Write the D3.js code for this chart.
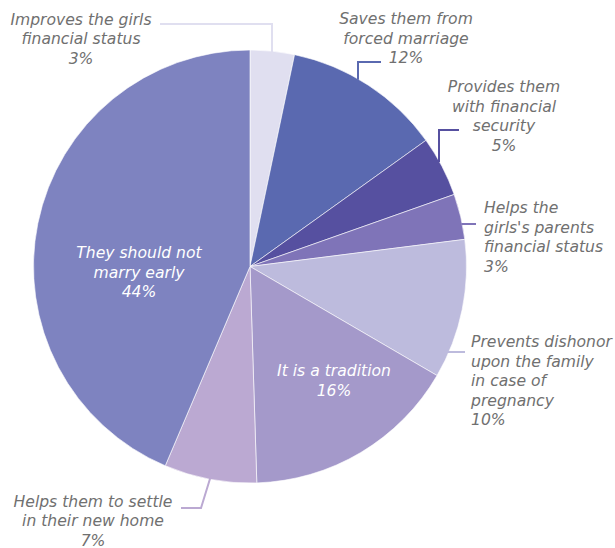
<!DOCTYPE html>
<html><head><meta charset="utf-8">
<script src="https://cdn.jsdelivr.net/npm/d3@7"></script>
<style>
html,body{margin:0;padding:0;background:#fff;}
svg{display:block;}
text{font-family:"DejaVu Sans",sans-serif;font-style:italic;font-size:15.6px;}
</style></head>
<body>
<svg id="chart" width="615" height="548"></svg>
<script>
// ---- data ----
const categories = [
  "Improves the girls financial status",
  "Saves them from forced marriage",
  "Provides them with financial security",
  "Helps the girls's parents financial status",
  "Prevents dishonor upon the family in case of pregnancy",
  "It is a tradition",
  "Helps them to settle in their new home",
  "They should not marry early"
];
const values = [3.3, 11.8, 4.5, 3.4, 10.4, 16.1, 6.9, 43.6];
const colors = ["#e0dff0", "#5a69b0", "#5650a0", "#7f74b8", "#bdbbdd", "#a499ca", "#bba9d2", "#7e83c0"];
const labelLines = [
  ["Improves the girls", "financial status"],
  ["Saves them from", "forced marriage"],
  ["Provides them", "with financial", "security"],
  ["Helps the", "girls's parents", "financial status"],
  ["Prevents dishonor", "upon the family", "in case of", "pregnancy"],
  ["It is a tradition"],
  ["Helps them to settle", "in their new home"],
  ["They should not", "marry early"]
];

// ---- layout (styling / placement, not data) ----
const cx = 250, cy = 266.5, R = 216.5;
const lineH = 19.6;
const layout = [
  {kind:"v", lx:272, ly:24, ex:160, tx:81, ty:24.5, anchor:"middle"},
  {kind:"v", lx:358, ly:62, ex:381, tx:406, ty:24, anchor:"middle"},
  {kind:"v", lx:439, ly:130, ex:459, tx:504, ty:92, anchor:"middle"},
  {kind:"h", ly:224, ex:476, tx:484, ty:213, anchor:"start"},
  {kind:"h", ly:352, ex:465, tx:471, ty:347, anchor:"start"},
  {kind:"i", tx:334, ty:376, anchor:"middle"},
  {kind:"s", kx:201, ky:508, ex:181, tx:93, ty:506.5, anchor:"middle"},
  {kind:"i", tx:139, ty:258, anchor:"middle"}
];

const svg = d3.select("#chart");
const g = svg.append("g").attr("transform", `translate(${cx},${cy})`);

const pie = d3.pie().sort(null).value(d => d)(values);
const arc = d3.arc().innerRadius(0).outerRadius(R);

g.selectAll("path.slice").data(pie).enter().append("path")
  .attr("class", "slice")
  .attr("d", arc)
  .attr("fill", (d, i) => colors[i])
  .attr("stroke", "#ffffff")
  .attr("stroke-width", 0.6)
  .attr("stroke-linejoin", "round");

const lg = svg.append("g");
pie.forEach((d, i) => {
  const L = layout[i];
  const pct = Math.round(values[i]) + "%";
  let pts = null;
  if (L.kind === "v") {
    const dx = L.lx - cx;
    const y0 = cy - Math.sqrt(R * R - dx * dx);
    pts = [[L.lx, y0 + 1], [L.lx, L.ly], [L.ex, L.ly]];
  } else if (L.kind === "h") {
    const dy = L.ly - cy;
    const x0 = cx + Math.sqrt(R * R - dy * dy);
    pts = [[x0 - 1, L.ly], [L.ex, L.ly]];
  } else if (L.kind === "s") {
    const a = (d.startAngle + d.endAngle) / 2;
    const ax = cx + (R - 2) * Math.sin(a), ay = cy - (R - 2) * Math.cos(a);
    pts = [[ax, ay], [L.kx, L.ky], [L.ex, L.ky]];
  }
  if (pts) {
    lg.append("path")
      .attr("d", d3.line()(pts))
      .attr("fill", "none")
      .attr("stroke", colors[i])
      .attr("stroke-width", 2);
  }
  const lines = labelLines[i].concat([pct]);
  const t = lg.append("text")
    .attr("text-anchor", L.anchor)
    .attr("fill", L.kind === "i" ? "#ffffff" : "#707070");
  lines.forEach((s, k) => {
    t.append("tspan").attr("x", L.tx).attr("y", L.ty + k * lineH).text(s);
  });
});
</script>
</body></html>
